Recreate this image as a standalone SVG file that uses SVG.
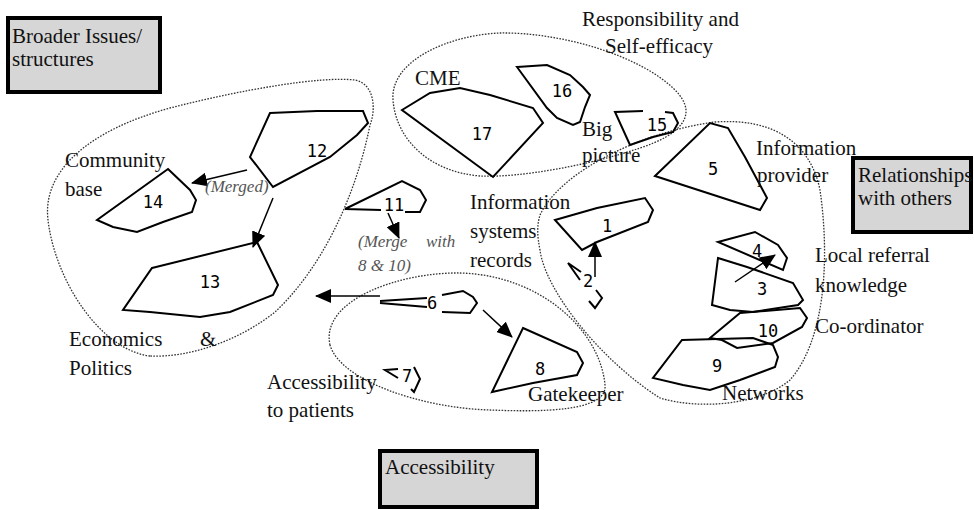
<svg xmlns="http://www.w3.org/2000/svg" width="974" height="510" viewBox="0 0 974 510">
<style>
.bg{fill:#fff}
.box{fill:#d6d6d6;stroke:#000;stroke-width:4}
.t{font-family:"Liberation Serif","Times New Roman",serif;font-size:21px;fill:#111}
.it{font-family:"Liberation Serif","Times New Roman",serif;font-size:17px;font-style:italic;fill:#555}
.n{font-family:"DejaVu Sans Mono","Liberation Mono",monospace;font-size:17px;fill:#000;text-anchor:middle}
.p{fill:none;stroke:#000;stroke-width:2;stroke-linejoin:miter}
.loop{fill:none;stroke:#333;stroke-width:1.3;stroke-dasharray:1.6 1.4}
.c{fill:none;stroke:#000;stroke-width:1.5}
</style>
<defs>
<marker id="ah" markerWidth="16" markerHeight="14" refX="15" refY="7" orient="auto" markerUnits="userSpaceOnUse"><path d="M0,0 L16,7 L0,14 Z" fill="#000"/></marker>
</defs>
<rect class="bg" x="0" y="0" width="974" height="510"/>

<g id="groups">
<path class="loop" d="M150,356 C100,350 55,280 48,220 C42,170 90,130 170,108 C240,90 320,76 355,80 C375,84 376,110 370,125 C355,200 320,270 275,312 C240,340 190,358 150,356 Z"/>
<path class="loop" d="M393,100 C390,60 450,35 500,33 C560,32 640,55 675,90 C700,115 680,135 640,148 C590,165 520,178 480,176 C430,172 396,140 393,100 Z"/>
<path class="loop" d="M540,215 C560,172 640,132 715,122 C770,118 810,140 820,190 C830,260 825,340 790,380 C760,405 700,410 660,398 C600,360 545,290 540,250 C537,235 537,225 540,215 Z"/>
<path class="loop" d="M330,345 C320,300 400,272 460,273 C540,275 600,330 605,385 C608,412 540,412 490,410 C420,408 340,380 330,345 Z"/>
</g>

<g id="box-broader">
<rect class="box" x="8" y="18" width="152" height="74"/>
<text class="t" x="12" y="43">Broader Issues/</text>
<text class="t" x="12" y="66">structures</text>
</g>
<g id="box-relationships">
<rect class="box" x="853" y="158" width="118" height="74"/>
<text class="t" x="858" y="182">Relationships</text>
<text class="t" x="858" y="205">with others</text>
</g>
<g id="box-accessibility">
<rect class="box" x="380" y="451" width="157" height="56"/>
<text class="t" x="385" y="474">Accessibility</text>
</g>

<g id="n12"><polygon class="p" points="270,113 317,111 363,111 368,123 357,135 330,157 273,187 250,157"/><text class="n" x="317" y="157">12</text></g>
<g id="n14"><polygon class="p" points="168,169 190,190 196,200 192,212 163,222 137,232 113,227 97,220"/><text class="n" x="153" y="208">14</text></g>
<g id="n13"><polygon class="p" points="152,268 257,242 278,285 273,295 230,312 200,317 150,312 123,310"/><text class="n" x="210" y="288">13</text></g>
<g id="n11"><polyline class="p" points="381,210 345,209 402,181 420,190 426,200 420,212 405,212"/><text class="n" x="394" y="211">11</text></g>
<g id="n6"><path class="p" d="M380,301 L427,298 M380,303 L427,307"/><polyline class="p" points="442,295 463,291 473,297 477,303 470,313 442,312"/><text class="n" x="432" y="309">6</text></g>
<g id="n8"><polygon class="p" points="523,328 577,352 583,363 577,375 533,383 492,392"/><text class="n" x="540" y="375">8</text></g>
<g id="n7"><path class="p" d="M398,369 L385,370 L398,378 M414,367 L420,379 L414,392 L411,389"/><text class="n" x="407" y="382">7</text></g>
<g id="n2"><path class="p" d="M581,272 L568,263 L580,280 M596,290 L602,298 L595,308 L589,301"/><text class="n" x="588" y="287">2</text></g>
<g id="n1"><polygon class="p" points="555,220 597,208 645,198 653,210 648,222 597,242 582,250"/><text class="n" x="607" y="232">1</text></g>
<g id="n5"><polygon class="p" points="655,176 710,123 728,128 745,157 767,198 760,210"/><text class="n" x="713" y="175">5</text></g>
<g id="n15"><polyline class="p" points="643,111 615,112 630,145 653,137 673,132 678,123 673,113 665,112"/><text class="n" x="657" y="131">15</text></g>
<g id="n16"><polygon class="p" points="517,67 547,65 570,75 583,87 590,95 585,107 580,122 573,125 557,118 547,108"/><text class="n" x="562" y="97">16</text></g>
<g id="n17"><polygon class="p" points="402,110 430,93 460,88 490,95 533,108 543,123 493,177"/><text class="n" x="482" y="140">17</text></g>
<g id="n4"><polygon class="p" points="718,242 755,232 778,245 787,258 783,270"/><text class="n" x="757" y="257">4</text></g>
<g id="n3"><polygon class="p" points="718,258 747,267 793,283 803,300 798,305 753,312 730,310 712,305"/><text class="n" x="762" y="295">3</text></g>
<g id="n10"><polygon class="p" points="710,338 740,313 800,308 807,318 802,327 773,343 737,348 722,340"/><text class="n" x="768" y="337">10</text></g>
<g id="n9"><polygon class="p" points="682,340 753,338 773,345 778,357 775,367 740,380 710,390 683,385 653,378"/><text class="n" x="717" y="372">9</text></g>

<g id="connectors">
<path class="c" d="M247,170 L192,183" marker-end="url(#ah)"/>
<path class="c" d="M273,198 L253,247" marker-end="url(#ah)"/>
<path class="c" d="M388,213 L399,238" marker-end="url(#ah)"/>
<path class="c" d="M380,296 L316,296" marker-end="url(#ah)"/>
<path class="c" d="M483,310 L512,337" marker-end="url(#ah)"/>
<path class="c" d="M595,277 L595,242" marker-end="url(#ah)"/>
<path class="c" d="M735,282 L775,255" marker-end="url(#ah)"/>
</g>

<g id="labels">
<text class="t" x="582" y="26">Responsibility and</text>
<text class="t" x="605" y="53">Self-efficacy</text>
<text class="t" x="415" y="85">CME</text>
<text class="t" x="582" y="136">Big</text>
<text class="t" x="582" y="162">picture</text>
<text class="t" x="65" y="167">Community</text>
<text class="t" x="65" y="196">base</text>
<text class="it" x="205" y="192">(Merged)</text>
<text class="t" x="470" y="209">Information</text>
<text class="t" x="470" y="238">systems</text>
<text class="t" x="470" y="267">records</text>
<text class="it" x="358" y="247">(Merge</text>
<text class="it" x="426" y="247">with</text>
<text class="it" x="358" y="271">8 &amp; 10)</text>
<text class="t" x="69" y="346">Economics</text>
<text class="t" x="200" y="346">&amp;</text>
<text class="t" x="69" y="375">Politics</text>
<text class="t" x="267" y="389">Accessibility</text>
<text class="t" x="267" y="417">to patients</text>
<text class="t" x="528" y="401">Gatekeeper</text>
<text class="t" x="756" y="155">Information</text>
<text class="t" x="757" y="182">provider</text>
<text class="t" x="815" y="262">Local referral</text>
<text class="t" x="815" y="292">knowledge</text>
<text class="t" x="815" y="333">Co-ordinator</text>
<text class="t" x="722" y="400">Networks</text>
</g>
</svg>
